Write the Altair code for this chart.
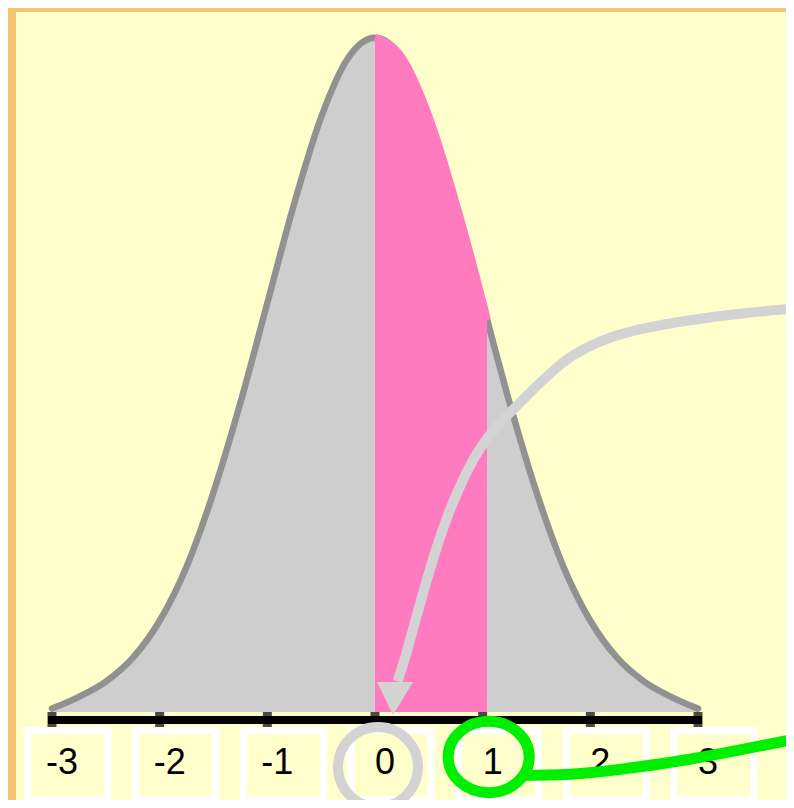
import altair as alt
import pandas as pd

# ---------------- values ----------------
z_vals = [-3.0, -2.75, -2.5, -2.25, -2.0, -1.75, -1.5, -1.25, -1.0, -0.75, -0.5, -0.25,
          0.0, 0.25, 0.5, 0.75, 1.0, 1.25, 1.5, 1.75, 2.0, 2.25, 2.5, 2.75, 3.0]
density = [0.002, 0.009, 0.018, 0.032, 0.054, 0.086, 0.130, 0.183, 0.242, 0.301, 0.352, 0.387,
           0.399, 0.387, 0.352, 0.301, 0.242, 0.183, 0.130, 0.086, 0.054, 0.032, 0.018, 0.009, 0.002]

band_z = [0.0, 0.25, 0.5, 0.75, 1.0, 1.04]
band_density = [0.399, 0.387, 0.352, 0.301, 0.242, 0.232]

tick_values = [-3, -2, -1, 0, 1, 2, 3]
tick_labels = ["-3", "-2", "-1", "0", "1", "2", "3"]

# annotation paths (in data units: z, density)
arrow_z = [3.95, 3.39, 2.93, 2.46, 2.09, 1.79, 1.55, 1.25, 0.98, 0.74, 0.56, 0.40, 0.29, 0.21]
arrow_d = [0.239, 0.236, 0.232, 0.227, 0.220, 0.210, 0.196, 0.177, 0.159, 0.128, 0.096, 0.060, 0.034, 0.018]
arrow_head_z = [0.186]
arrow_head_d = [0.008]

green_z = [1.40, 1.90, 2.46, 2.90, 3.39, 3.95]
green_d = [-0.0375, -0.0370, -0.0325, -0.0284, -0.0225, -0.0154]

# ---------------- layout / style ----------------
W, H = 778, 792
X0_PX, X_UNIT = 367.0, 107.67
Y0_PX, Y_UNIT = 704.0, 1690.0
x_scale = alt.Scale(domain=[-X0_PX / X_UNIT, (W - X0_PX) / X_UNIT], nice=False, zero=False)
y_scale = alt.Scale(domain=[(Y0_PX - H) / Y_UNIT, Y0_PX / Y_UNIT], nice=False, zero=False)

ORANGE = "#f6c36e"
YELLOW = "#ffffcc"
GRAY_FILL = "#cecece"
GRAY_LINE = "#919191"
PINK = "#ff7bc0"
LIGHT = "#d3d3d3"
GREEN = "#00ee00"

curve = pd.DataFrame({"z": z_vals, "d": density})
band = pd.DataFrame({"z": band_z, "d": band_density})
ticks = pd.DataFrame({"z": tick_values, "label": tick_labels})
arrow = pd.DataFrame({"z": arrow_z, "d": arrow_d, "i": list(range(len(arrow_z)))})
head = pd.DataFrame({"z": arrow_head_z, "d": arrow_head_d})
green = pd.DataFrame({"z": green_z, "d": green_d, "i": list(range(len(green_z)))})

X = lambda f="z": alt.X(f"{f}:Q", scale=x_scale, axis=None)
Y = lambda f="d": alt.Y(f"{f}:Q", scale=y_scale, axis=None)

bg = alt.Chart(alt.Data(values=[{}])).mark_rect(color=YELLOW).encode(
    x=alt.value(8), x2=alt.value(W), y=alt.value(4), y2=alt.value(H))

area = alt.Chart(curve).mark_area(color=GRAY_FILL, interpolate="monotone").encode(
    x=X(), y=Y(), y2=alt.datum(0))
outline = alt.Chart(curve).mark_line(color=GRAY_LINE, strokeWidth=6.5, interpolate="monotone",
                                     strokeCap="round").encode(x=X(), y=Y())
pink_area = alt.Chart(band).mark_area(color=PINK, interpolate="monotone").encode(
    x=X(), y=Y(), y2=alt.datum(0))
pink_line = alt.Chart(band).mark_line(color=PINK, strokeWidth=8, interpolate="monotone",
                                      strokeCap="butt").encode(x=X(), y=Y())

axis_line = alt.Chart(alt.Data(values=[{"a": -3, "b": 3}])).mark_rule(
    color="black", strokeWidth=8, strokeCap="square").encode(
    x=alt.X("a:Q", scale=x_scale, axis=None), x2="b:Q", y=alt.value(712))
tick_marks = alt.Chart(ticks).mark_tick(color="black", thickness=9, size=15, orient="vertical").encode(
    x=X(), y=alt.value(711.5))

BOX = "M-1,-0.8625H1V0.8625H-1Z"
boxes = alt.Chart(ticks).mark_point(shape=BOX, size=6400, filled=True, fill=YELLOW,
                                    stroke="white", strokeWidth=7, opacity=1, xOffset=16).encode(
    x=X(), y=alt.value(757))
labels = alt.Chart(ticks).mark_text(font="Liberation Sans", fontSize=36, color="black",
                                    align="center", baseline="alphabetic", xOffset=10).encode(
    x=X(), y=alt.value(766), text="label:N")

zero_ring = alt.Chart(ticks).transform_filter("datum.z == 0").mark_point(
    shape="circle", size=6400, filled=False, stroke=LIGHT, strokeWidth=10, opacity=1, xOffset=3).encode(
    x=X(), y=alt.value(759))

ELLIPSE = ("M-1,0C-1,-0.486-0.552,-0.88 0,-0.88C0.552,-0.88 1,-0.486 1,0"
           "C1,0.486 0.552,0.88 0,0.88C-0.552,0.88-1,0.486-1,0Z")
one_ring = alt.Chart(ticks).transform_filter("datum.z == 1").mark_point(
    shape=ELLIPSE, size=6561, filled=False, stroke=GREEN, strokeWidth=11, opacity=1, xOffset=6).encode(
    x=X(), y=alt.value(749))

green_line = alt.Chart(green).mark_line(color=GREEN, strokeWidth=11, interpolate="basis",
                                        strokeCap="round").encode(
    x=X(), y=Y(), order="i:Q")

arrow_line = alt.Chart(arrow).mark_line(color=LIGHT, strokeWidth=10, interpolate="basis",
                                        strokeCap="butt").encode(
    x=X(), y=Y(), order="i:Q")
HEAD = "M-1,-0.92L1,-0.92L-0.11,0.92Z"
arrow_head = alt.Chart(head).mark_point(shape=HEAD, size=1296, filled=True, fill=LIGHT,
                                        strokeWidth=0, opacity=1).encode(x=X(), y=Y())

chart = alt.layer(
    bg, area, outline, pink_area, pink_line, axis_line, tick_marks,
    boxes, labels, zero_ring, one_ring, green_line, arrow_line, arrow_head
).properties(
    width=W, height=H, background=ORANGE, padding=0,
    autosize=alt.AutoSizeParams(type="none")
).configure_view(stroke=None)

chart.save("out.html", embed_options={"renderer": "svg", "actions": False})
